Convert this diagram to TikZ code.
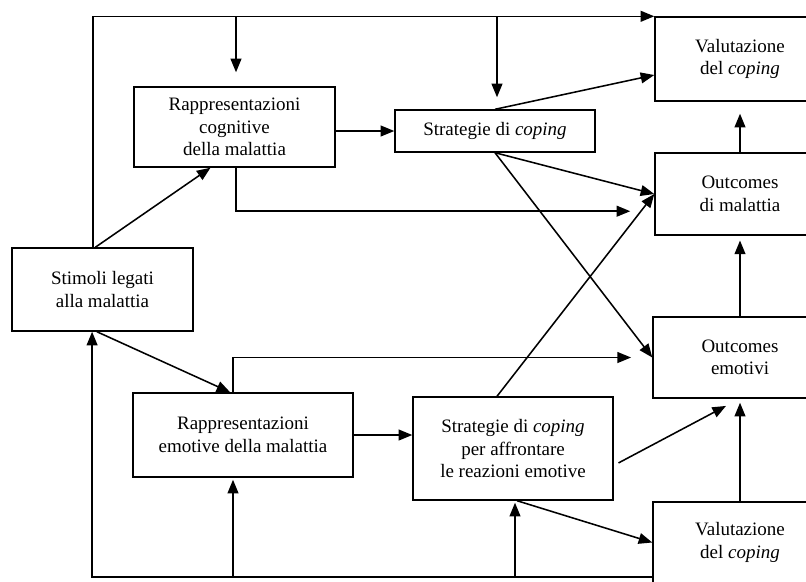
\documentclass[tikz,border=0pt]{standalone}
\usepackage{fontspec}
\setmainfont{Liberation Serif}
\usepackage{tikz}
\usetikzlibrary{arrows.meta}

\begin{document}
\begin{tikzpicture}[x=0.025cm,y=-0.025cm,
                box/.style={rectangle,draw=black,line width=1pt,align=center,
                    font=\fontsize{13.5}{16}\selectfont,inner sep=2pt},
                arr/.style={-{Triangle[length=3.4mm,width=2.7mm]},line width=1.1pt}
            ]
                \useasboundingbox (0,0) rectangle (806,581);
                \clip (0,0) rectangle (806,581);

                \node[box,minimum width=4.525cm,minimum height=2.075cm] (stim) at (102.5,289.5) {Stimoli legati\\alla malattia};
                \node[box,minimum width=5.025cm,minimum height=2.0cm] (rcog) at (234.5,127) {Rappresentazioni\\cognitive\\della malattia};
                \node[box,minimum width=5.0cm,minimum height=1.05cm] (strat) at (495,131) {Strategie di \textit{coping}};
                \node[box,minimum width=4.25cm,minimum height=2.1cm] (valtop) at (740,59) {Valutazione\\del \textit{coping}};
                \node[box,minimum width=4.25cm,minimum height=2.05cm] (outmal) at (740,194) {Outcomes\\di malattia};
                \node[box,minimum width=4.35cm,minimum height=2.025cm] (outemo) at (740,357.5) {Outcomes\\emotivi};
                \node[box,minimum width=5.5cm,minimum height=2.1cm] (rem) at (243,435) {Rappresentazioni\\emotive della malattia};
                \node[box,minimum width=5.0cm,minimum height=2.575cm] (stemo) at (513,448.5) {Strategie di \textit{coping}\\per affrontare\\le reazioni emotive};
                \node[box,minimum width=4.35cm,minimum height=2.025cm] (valbot) at (740,542.5) {Valutazione\\del \textit{coping}};

                % feedback lines
                \coordinate (d1) at (236,17);
                \coordinate (d2) at (497,17);
                \coordinate (b0) at (653,577);
                \coordinate (b1) at (233,577);
                \coordinate (b2) at (515,577);

                \draw[arr] ([xshift=-0.24cm]stim.north) |- (valtop.north west);
                \draw[arr,shorten >=0.35cm] (d1) -- (d1 |- rcog.north);
                \draw[arr,shorten >=0.3cm] (d2) -- (d2 |- strat.north);
                \draw[arr] (b0) -| ([xshift=-0.26cm]stim.south);
                \draw[arr,shorten >=0.05cm] (b1) -- (b1 |- rem.south);
                \draw[arr,shorten >=0.05cm] (b2) -- (b2 |- stemo.south);

                % upper path
                \draw[arr] ([xshift=-0.18cm]stim.north) -- ([xshift=-0.6cm]rcog.south);
                \draw[arr] (strat.west -| rcog.east) -- (strat.west);
                \draw[arr,shorten >=0.6cm] ([xshift=0.04cm]rcog.south) |- ([yshift=-0.43cm]outmal.west);
                \draw[arr] (strat.north) -- ([yshift=-0.4cm]valtop.west);
                \draw[arr] (strat.south) -- (outmal.west);
                \draw[arr] (strat.south) -- (outemo.west);

                % lower path
                \draw[arr] ([xshift=-0.14cm]stim.south) -- ([xshift=-0.32cm]rem.north);
                \draw[arr] (rem.east) -- (rem.east -| stemo.west);
                \draw[arr,shorten >=0.53cm] ([xshift=-0.25cm]rem.north) |- (outemo.west);
                \draw[arr] ([xshift=-0.4cm]stemo.north) -- (outmal.west);
                \draw[arr] ([xshift=0.12cm,yshift=-0.36cm]stemo.east) -- ([xshift=-0.35cm,yshift=-0.18cm]outemo.south);
                \draw[arr] ([xshift=0.1cm]stemo.south) -- (valbot.west);

                % right column
                \draw[arr,shorten >=0.3cm] (outmal.north) -- (valtop.south);
                \draw[arr,shorten >=0.12cm] (outemo.north) -- (outmal.south);
                \draw[arr,shorten >=0.1cm] (valbot.north) -- (outemo.south);

            \end{tikzpicture}
\end{document}
